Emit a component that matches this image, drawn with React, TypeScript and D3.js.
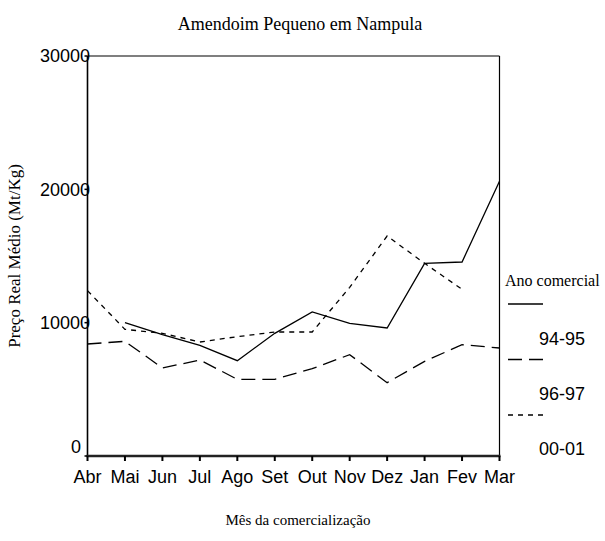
import React from "react";
import * as d3 from "d3";

const months = ["Abr", "Mai", "Jun", "Jul", "Ago", "Set", "Out", "Nov", "Dez", "Jan", "Fev", "Mar"];
const s9495: (number | null)[] = [null, 10000, 9100, 8300, 7150, 9200, 10800, 9950, 9600, 14450, 14550, 20600];
const s9697: (number | null)[] = [8400, 8600, 6600, 7200, 5750, 5750, 6550, 7600, 5500, 7100, 8350, 8100];
const s0001: (number | null)[] = [12400, 9500, 9200, 8550, 8950, 9300, 9300, 12650, 16500, 14450, 12500, null];
const seriesNames = ["94-95", "96-97", "00-01"];
const seriesValues = [s9495, s9697, s0001];
const yTicks = [0, 10000, 20000, 30000];

const W = 605, H = 541;
const L = 87.5, R = 499.5, T = 56, B = 456;
const dashes = [undefined, "14,7", "5,5"];
const sans = "'Liberation Sans', Arial, sans-serif";
const serif = "'Liberation Serif', 'Times New Roman', serif";

export default function App() {
  const x = d3.scalePoint<string>().domain(months).range([L, R]);
  const y = d3.scaleLinear().domain([0, 30000]).range([B, T]);
  const line = d3
    .line<number | null>()
    .defined((d) => d != null)
    .x((_, i) => x(months[i]) as number)
    .y((d) => y(d as number));

  return (
    <svg width={W} height={H} style={{ position: "absolute", left: 0, top: 0, background: "#fff" }}>
      <rect x={0} y={0} width={W} height={H} fill="#fff" />
      <text x={300} y={30} textAnchor="middle" fontFamily={serif} fontSize={18}>
        Amendoim Pequeno em Nampula
      </text>
      {/* frame */}
      <line x1={L} x2={R} y1={T} y2={T} stroke="#000" strokeWidth={1.2} />
      <line x1={R} x2={R} y1={T} y2={B} stroke="#000" strokeWidth={1.2} />
      <line x1={L} x2={L} y1={T} y2={B} stroke="#000" strokeWidth={1.6} />
      <line x1={L - 1} x2={R + 1} y1={B} y2={B} stroke="#222" strokeWidth={2.5} />
      {/* x ticks */}
      {months.map((m) => (
        <g key={m}>
          <line x1={x(m)} x2={x(m)} y1={B} y2={B + 5} stroke="#000" strokeWidth={2} />
          <text x={x(m)} y={483} textAnchor="middle" fontFamily={sans} fontSize={18}>
            {m}
          </text>
        </g>
      ))}
      {/* y ticks */}
      {yTicks.map((t) => (
        <g key={t}>
          <line x1={L - 3} x2={L} y1={y(t)} y2={y(t)} stroke="#000" strokeWidth={1.5} />
          <text
            x={t === 0 ? 81 : 90}
            y={t === 0 ? y(t) - 9 : y(t)}
            dy="0.35em"
            textAnchor="end"
            fontFamily={sans}
            fontSize={18}
          >
            {t}
          </text>
        </g>
      ))}
      <text
        transform={`translate(20,256) rotate(-90)`}
        textAnchor="middle"
        fontFamily={serif}
        fontSize={17}
      >
        Preço Real Médio (Mt/Kg)
      </text>
      <text x={298} y={525} textAnchor="middle" fontFamily={serif} fontSize={15}>
        Mês da comercialização
      </text>
      {/* lines */}
      {seriesValues.map((vals, i) => (
        <path
          key={seriesNames[i]}
          d={line(vals) || ""}
          fill="none"
          stroke="#000"
          strokeWidth={1.3}
          strokeDasharray={dashes[i]}
        />
      ))}
      {/* legend */}
      <text x={505} y={286} fontFamily={serif} fontSize={16}>
        Ano comercial
      </text>
      {seriesNames.map((n, i) => (
        <g key={n}>
          <line
            x1={508}
            x2={543}
            y1={304 + i * 55.5}
            y2={304 + i * 55.5}
            stroke="#000"
            strokeWidth={1.3}
            strokeDasharray={dashes[i]}
          />
          <text x={539} y={345 + i * 55} fontFamily={sans} fontSize={18}>
            {n}
          </text>
        </g>
      ))}
    </svg>
  );
}
